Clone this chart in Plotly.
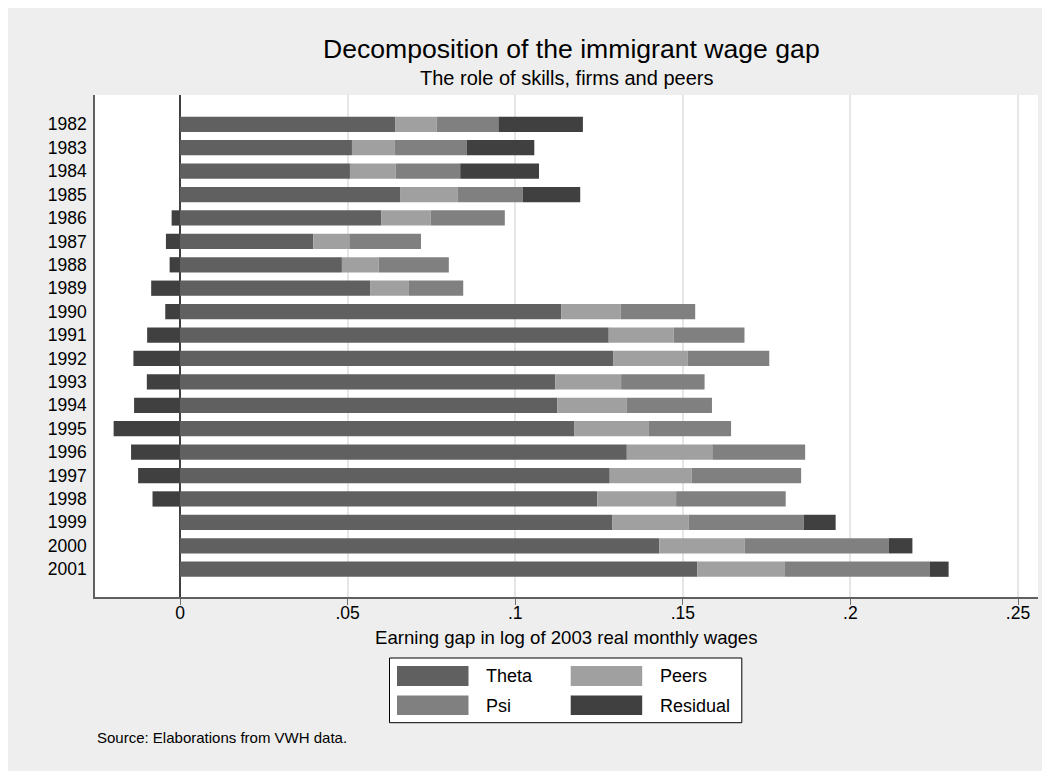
import plotly.graph_objects as go

# ---------------- data ----------------
years = ["1982", "1983", "1984", "1985", "1986", "1987", "1988", "1989", "1990", "1991",
         "1992", "1993", "1994", "1995", "1996", "1997", "1998", "1999", "2000", "2001"]
theta = [0.0643, 0.0513, 0.0507, 0.0658, 0.0601, 0.0398, 0.0483, 0.0567, 0.1137, 0.1279,
         0.1292, 0.1120, 0.1126, 0.1177, 0.1333, 0.1282, 0.1245, 0.1289, 0.1430, 0.1543]
peers = [0.0123, 0.0128, 0.0136, 0.0171, 0.0147, 0.0107, 0.0110, 0.0116, 0.0178, 0.0194,
         0.0222, 0.0196, 0.0207, 0.0222, 0.0255, 0.0244, 0.0235, 0.0229, 0.0254, 0.0260]
psi = [0.0184, 0.0215, 0.0193, 0.0194, 0.0221, 0.0214, 0.0209, 0.0162, 0.0222, 0.0211,
       0.0244, 0.0249, 0.0254, 0.0245, 0.0277, 0.0327, 0.0327, 0.0343, 0.0431, 0.0433]
residual = [0.0252, 0.0201, 0.0235, 0.0171, -0.0025, -0.0042, -0.0031, -0.0086, -0.0044, -0.0098,
            -0.0139, -0.0099, -0.0137, -0.0198, -0.0146, -0.0125, -0.0082, 0.0095, 0.0070, 0.0057]
x_ticks = [0, 0.05, 0.1, 0.15, 0.2, 0.25]
x_tick_labels = ["0", ".05", ".1", ".15", ".2", ".25"]

series_names = ["Theta", "Peers", "Psi", "Residual"]
series_values = [theta, peers, psi, residual]
series_colors = ["#606060", "#a0a0a0", "#808080", "#404040"]

# ---------------- layout geometry (screenshot pixels; page has 8px body margin) ----------------
W, H = 1050, 771
OFF = 8
L, R, T, B = 95, 1038, 95, 597
FONT = "Liberation Sans, Arial, Helvetica, sans-serif"
BG = "#eeeeee"


def px(xp):
    return (xp - L) / (R - L)


def py(yp):
    return (B - yp) / (B - T)


fig = go.Figure()
for name, vals, col in zip(series_names, series_values, series_colors):
    fig.add_trace(go.Bar(
        y=years, x=vals, name=name, orientation="h",
        marker=dict(color=col, line=dict(width=0)),
        showlegend=False,
    ))

shapes = []
annotations = []

# custom legend (wide swatches in a box)
shapes.append(dict(type="rect", xref="paper", yref="paper", x0=px(389.5), x1=px(741.8),
                   y0=py(722.7), y1=py(658), fillcolor="white", line=dict(color="black", width=1)))
sw_cols = [(397, 468.5, 484), (570.7, 642.2, 658)]
sw_rows = [(666, 686, 676), (695.5, 715, 705.5)]
legend_order = [0, 1, 2, 3]  # Theta, Peers / Psi, Residual
for k, idx in enumerate(legend_order):
    r, c = divmod(k, 2)
    x0, x1, tx = sw_cols[c]
    y0, y1, ty = sw_rows[r]
    shapes.append(dict(type="rect", xref="paper", yref="paper", x0=px(x0), x1=px(x1),
                       y0=py(y1), y1=py(y0), fillcolor=series_colors[idx], line=dict(width=0)))
    annotations.append(dict(xref="paper", yref="paper", x=px(tx), y=py(ty), text=series_names[idx],
                            showarrow=False, xanchor="left", yanchor="middle",
                            font=dict(family=FONT, size=18, color="black")))

# titles
annotations.append(dict(xref="paper", yref="paper", x=px(571), y=py(49),
                        text="Decomposition of the immigrant wage gap", showarrow=False,
                        xanchor="center", yanchor="middle", font=dict(family=FONT, size=26.6, color="black")))
annotations.append(dict(xref="paper", yref="paper", x=px(566), y=py(77.5),
                        text="The role of skills, firms and peers", showarrow=False,
                        xanchor="center", yanchor="middle", font=dict(family=FONT, size=20, color="black")))
# x axis title
annotations.append(dict(xref="paper", yref="paper", x=px(566), y=py(637),
                        text="Earning gap in log of 2003 real monthly wages", showarrow=False,
                        xanchor="center", yanchor="middle", font=dict(family=FONT, size=18.6, color="black")))
# source note
annotations.append(dict(xref="paper", yref="paper", x=px(95), y=py(737),
                        text="Source: Elaborations from VWH data.", showarrow=False,
                        xanchor="left", yanchor="middle", font=dict(family=FONT, size=15, color="black")))

x_left = -85 / 3352
x_right = (R - 180) / 3352

fig.update_layout(
    width=W, height=H,
    margin=dict(l=L - OFF, r=W - (R - OFF), t=T - OFF, b=H - (B - OFF), pad=0),
    paper_bgcolor=BG,
    plot_bgcolor="white",
    barmode="relative",
    bargap=0.347,
    showlegend=False,
    font=dict(family=FONT, size=18, color="black"),
    shapes=shapes,
    annotations=annotations,
    xaxis=dict(
        range=[x_left, x_right],
        tickmode="array", tickvals=x_ticks, ticktext=x_tick_labels,
        ticks="outside", ticklen=6, tickcolor="#707070", tickwidth=1,
        ticklabelstandoff=-7,
        tickfont=dict(family=FONT, size=17.5, color="black"),
        showgrid=True, gridcolor="#e6e6e6", gridwidth=1.5,
        zeroline=True, zerolinecolor="#404040", zerolinewidth=1.5,
        showline=True, linecolor="#606060", linewidth=1.5,
        fixedrange=True,
    ),
    yaxis=dict(
        type="category",
        categoryorder="array", categoryarray=years,
        range=[20.187, -1.251],
        ticks="", ticklabelstandoff=3,
        tickfont=dict(family=FONT, size=17.5, color="black"),
        showgrid=False, zeroline=False,
        showline=True, linecolor="#606060", linewidth=1.5,
        fixedrange=True,
    ),
)

fig.write_html("out.html", config={"displayModeBar": False})
